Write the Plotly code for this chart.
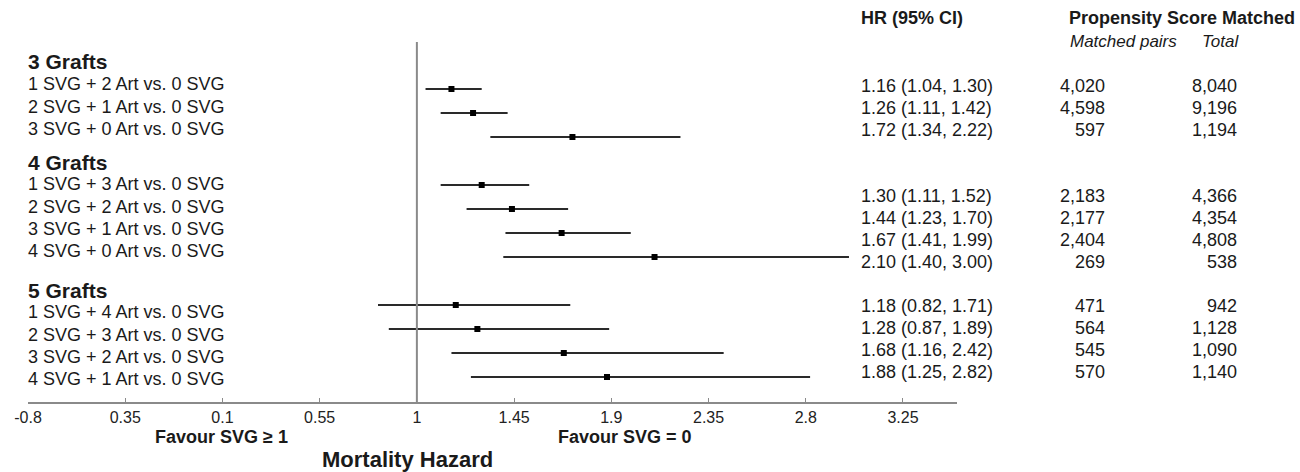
import plotly.graph_objects as go

# ---------------- data ----------------
groups = ["3 Grafts", "4 Grafts", "5 Grafts"]
row_labels = [
    ["1 SVG + 2 Art vs. 0 SVG", "2 SVG + 1 Art vs. 0 SVG", "3 SVG + 0 Art vs. 0 SVG"],
    ["1 SVG + 3 Art vs. 0 SVG", "2 SVG + 2 Art vs. 0 SVG", "3 SVG + 1 Art vs. 0 SVG", "4 SVG + 0 Art vs. 0 SVG"],
    ["1 SVG + 4 Art vs. 0 SVG", "2 SVG + 3 Art vs. 0 SVG", "3 SVG + 2 Art vs. 0 SVG", "4 SVG + 1 Art vs. 0 SVG"],
]
hr = [1.16, 1.26, 1.72, 1.30, 1.44, 1.67, 2.10, 1.18, 1.28, 1.68, 1.88]
ci_low = [1.04, 1.11, 1.34, 1.11, 1.23, 1.41, 1.40, 0.82, 0.87, 1.16, 1.25]
ci_high = [1.30, 1.42, 2.22, 1.52, 1.70, 1.99, 3.00, 1.71, 1.89, 2.42, 2.82]
matched_pairs = ["4,020", "4,598", "597", "2,183", "2,177", "2,404", "269", "471", "564", "545", "570"]
totals = ["8,040", "9,196", "1,194", "4,366", "4,354", "4,808", "538", "942", "1,128", "1,090", "1,140"]
tick_vals = [-0.8, -0.35, 0.1, 0.55, 1.0, 1.45, 1.9, 2.35, 2.8, 3.25]
tick_text = ["-0.8", "0.35", "0.1", "0.55", "1", "1.45", "1.9", "2.35", "2.8", "3.25"]

# ---------------- layout helpers ----------------
W, H = 1300, 472
FONT = "Liberation Sans, Arial, sans-serif"
TXT = "#1a1a1a"

def px(x):
    return x / W

def py(y):
    return 1 - y / H

# slots for the forest rows (one empty slot between groups)
slots = []
s = 0
for g, labs in enumerate(row_labels):
    for _ in labs:
        slots.append(s)
        s += 1
    s += 1

ROW_PX0, ROW_STEP = 89, 24        # pixel of first slot, pixels per slot
AXIS_PX = 402                      # pixel row of x axis line
y_top = -ROW_PX0 / ROW_STEP
y_bot = (AXIS_PX - ROW_PX0) / ROW_STEP

fig = go.Figure()
fig.add_trace(go.Scatter(
    x=hr, y=slots, mode="markers",
    marker=dict(symbol="square", size=6, color="#000000"),
    error_x=dict(type="data", symmetric=False,
                 array=[h - m for h, m in zip(ci_high, hr)],
                 arrayminus=[m - l for m, l in zip(hr, ci_low)],
                 width=0, thickness=2, color="#2a2a2a"),
    showlegend=False, hoverinfo="skip",
))

ann = []
# left labels
left_blocks_px = [62, 162, 290]
LSTEP = 22.3
for g, labs in enumerate(row_labels):
    y0 = left_blocks_px[g]
    ann.append(dict(text="<b>%s</b>" % groups[g], x=px(26), y=py(y0), xanchor="left", yanchor="middle",
                    font=dict(size=21, color=TXT, family=FONT)))
    for k, lab in enumerate(labs):
        ann.append(dict(text=lab, x=px(26), y=py(y0 + LSTEP * (k + 1)), xanchor="left", yanchor="middle",
                        font=dict(size=18, color=TXT, family=FONT)))

# right table
ann.append(dict(text="<b>HR (95% CI)</b>", x=px(859), y=py(18), xanchor="left", yanchor="middle",
                font=dict(size=18, color=TXT, family=FONT)))
ann.append(dict(text="<b>Propensity Score Matched</b>", x=px(1067), y=py(18), xanchor="left", yanchor="middle",
                font=dict(size=18, color=TXT, family=FONT)))
ann.append(dict(text="<i>Matched pairs</i>", x=px(1068), y=py(42), xanchor="left", yanchor="middle",
                font=dict(size=17, color=TXT, family=FONT)))
ann.append(dict(text="<i>Total</i>", x=px(1200), y=py(42), xanchor="left", yanchor="middle",
                font=dict(size=17, color=TXT, family=FONT)))

right_blocks_px = [86, 196, 306]
RSTEP = 22
i = 0
for g, labs in enumerate(row_labels):
    for k in range(len(labs)):
        yy = py(right_blocks_px[g] + RSTEP * k)
        ann.append(dict(text="%.2f (%.2f, %.2f)" % (hr[i], ci_low[i], ci_high[i]), x=px(859), y=yy,
                        xanchor="left", yanchor="middle", font=dict(size=18, color=TXT, family=FONT)))
        ann.append(dict(text=matched_pairs[i], x=px(1107), y=yy, xanchor="right", yanchor="middle",
                        font=dict(size=18, color=TXT, family=FONT)))
        ann.append(dict(text=totals[i], x=px(1239), y=yy, xanchor="right", yanchor="middle",
                        font=dict(size=18, color=TXT, family=FONT)))
        i += 1

# axis captions
ann.append(dict(text="<b>Favour SVG ≥ 1</b>", x=px(221), y=py(437), xanchor="center", yanchor="middle",
                font=dict(size=18, color=TXT, family=FONT)))
ann.append(dict(text="<b>Favour SVG = 0</b>", x=px(625), y=py(437), xanchor="center", yanchor="middle",
                font=dict(size=18, color=TXT, family=FONT)))
ann.append(dict(text="<b>Mortality Hazard</b>", x=px(407), y=py(459), xanchor="center", yanchor="middle",
                font=dict(size=22, color=TXT, family=FONT)))

for a in ann:
    a.update(xref="paper", yref="paper", showarrow=False)

fig.update_layout(
    width=W, height=H,
    margin=dict(l=0, r=0, t=0, b=0, pad=0, autoexpand=False),
    paper_bgcolor="white", plot_bgcolor="white",
    annotations=ann,
    shapes=[dict(type="line", xref="x", yref="paper", x0=1, x1=1, y0=py(AXIS_PX), y1=py(42),
                 line=dict(color="#8a8a8a", width=2))],
    xaxis=dict(domain=[px(28), px(957)], range=[-0.8, 3.5], showgrid=False, zeroline=False,
               automargin=False,
               showline=True, linecolor="#8a8a8a", linewidth=2,
               ticks="inside", ticklen=4, tickcolor="#8a8a8a", tickwidth=1,
               tickvals=tick_vals, ticktext=tick_text,
               tickfont=dict(size=16, color="#222222", family=FONT), fixedrange=True),
    yaxis=dict(domain=[py(AXIS_PX), 1], range=[y_bot, y_top], visible=False, automargin=False,
               fixedrange=True),
)

fig.write_html("out.html")
